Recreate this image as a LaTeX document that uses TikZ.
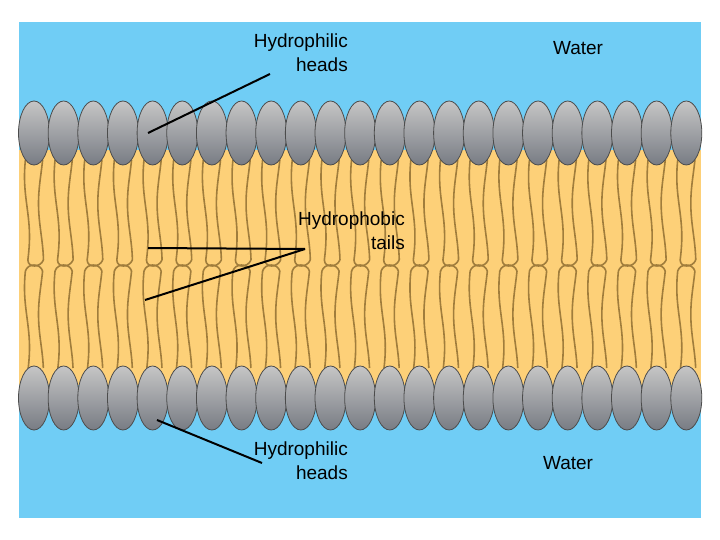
\documentclass[tikz,border=0pt]{standalone}
\usepackage{fontspec}
\setmainfont{Liberation Sans}
\usetikzlibrary{shapes.geometric}
\definecolor{water}{RGB}{112,205,245}
\definecolor{lipid}{RGB}{253,208,120}
\definecolor{tail}{RGB}{160,125,60}
\definecolor{headc}{RGB}{150,155,165}
\begin{document}
\begin{tikzpicture}[x=1pt,y=-1pt,
  head/.style={ellipse,minimum width=31,minimum height=64,inner sep=0,draw=gray!60!black,line width=0.8pt,top color=gray!45,bottom color=headc!80!black},
  tailline/.style={draw=tail,line width=1.6pt},
  lbl/.style={font=\fontsize{19}{24}\selectfont,align=right,inner sep=1pt},
  pointer/.style={draw=black,line width=2pt}]
\useasboundingbox (0,0) rectangle (720,540);
\fill[white] (0,0) rectangle (720,540);
\fill[water] (19,22) rectangle (701,518);
\fill[lipid] (19,150) rectangle (701,385);
\foreach \i in {0,...,22}{
  \pgfmathsetmacro{\cx}{34+29.65*\i}
  \pgfmathsetmacro{\la}{\cx-7+2.5*sin(300-140)}
  \pgfmathsetmacro{\ra}{\cx+7+2.5*sin(300+140)}
  \pgfmathsetmacro{\lb}{\cx-7+2.5*sin(-140)}
  \pgfmathsetmacro{\rb}{\cx+7+2.5*sin(140)}
  \foreach \d in {-7,7}{
    \draw[tailline] plot[domain=160:260,samples=25,smooth] ({\cx+\d+2.5*sin((\x-160)*3+\d*20)},\x);
    \draw[tailline] plot[domain=271:368,samples=25,smooth] ({\cx+\d+2.5*sin((\x-271)*3+\d*20)},\x);
  }
  \draw[tailline] (\la,260) .. controls ({\cx-6},268) and ({\cx+6},268) .. (\ra,260);
  \draw[tailline] (\lb,271) .. controls ({\cx-6},263) and ({\cx+6},263) .. (\rb,271);
  \node[head] (t\i) at (\cx,133) {};
  \node[head] (b\i) at (\cx,398) {};
}
\node[lbl,anchor=east] (hl1) at (349,53) {Hydrophilic\\heads};
\node[lbl] (w1) at (578,48) {Water};
\node[lbl,anchor=east] (ht) at (406,231) {Hydrophobic\\tails};
\node[lbl,anchor=east] (hl2) at (349,461) {Hydrophilic\\heads};
\node[lbl] (w2) at (568,463) {Water};
\coordinate (p1) at (148,133);
\coordinate (p1s) at (270,74);
\coordinate (p2) at (148,248);
\coordinate (p3) at (145,300);
\coordinate (pts) at (305,249);
\coordinate (p4) at (157,420);
\coordinate (p4s) at (262,463);
\draw[pointer] (p1s) -- (p1);
\draw[pointer] (pts) -- (p2);
\draw[pointer] (pts) -- (p3);
\draw[pointer] (p4s) -- (p4);
\end{tikzpicture}
\end{document}
